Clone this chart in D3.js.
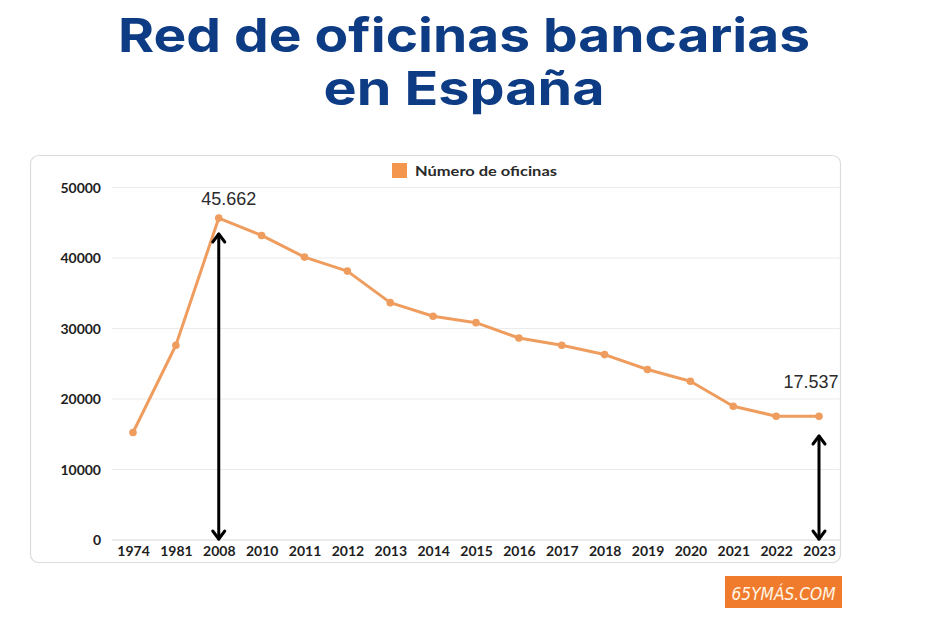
<!DOCTYPE html>
<html><head><meta charset="utf-8">
<script src="https://cdn.jsdelivr.net/npm/d3@7"></script>
<style>body{margin:0;background:#fff}svg{display:block}</style>
</head><body>
<svg id="c" width="928" height="621"></svg>
<script>
const years = ["1974","1981","2008","2010","2011","2012","2013","2014","2015","2016","2017","2018","2019","2020","2021","2022","2023"];
const oficinas = [15250,27620,45662,43200,40130,38140,33670,31730,30830,28650,27620,26300,24180,22520,18980,17560,17537];
const yTicks = [0,10000,20000,30000,40000,50000];
const titleLines = ["Red de oficinas bancarias","en España"];
const seriesName = "Número de oficinas";
const labelled = [{year:"2008", text:"45.662"},{year:"2023", text:"17.537"}];

const svg = d3.select("#c");
const x = d3.scalePoint().domain(years).range([133, 819]);
const y = d3.scaleLinear().domain([0,50000]).range([540, 187.5]);

// title
svg.append("g").selectAll("text").data(titleLines).join("text")
  .attr("x", 464).attr("y", (d,i)=> 52 + i*53)
  .attr("text-anchor","middle")
  .attr("font-family","Inter, 'Open Sans', sans-serif")
  .attr("font-weight", 700).attr("font-size", 47)
  .attr("fill","#0e3c84")
  .attr("textLength",(d,i)=> i===0 ? 692 : 281)
  .attr("lengthAdjust","spacingAndGlyphs")
  .text(d=>d);

// chart box
svg.append("rect").attr("x",30.5).attr("y",155.5).attr("width",810).attr("height",407)
  .attr("rx",8).attr("fill","#fff").attr("stroke","#dcdcdc").attr("stroke-width",1.2);

// legend
svg.append("rect").attr("x",392).attr("y",163).attr("width",15).attr("height",15).attr("fill","#f5964f");
svg.append("text").attr("x",415).attr("y",176).attr("font-family","Lato, Inter, sans-serif")
  .attr("font-weight",700).attr("font-size",14).attr("fill","#2a2a2a")
  .attr("textLength",142).attr("lengthAdjust","spacingAndGlyphs").text(seriesName);

// grid
svg.append("g").selectAll("line").data(yTicks).join("line")
  .attr("x1",112).attr("x2",840).attr("y1",d=>y(d)).attr("y2",d=>y(d))
  .attr("stroke",d=> d===0 ? "#d8d8d8" : "#ebebeb").attr("stroke-width",1);

// y axis labels
const yAxis = d3.axisLeft(y).tickValues(yTicks).tickSize(0).tickPadding(0).tickFormat(d3.format("d"));
const ya = svg.append("g").attr("transform","translate(101,0)").call(yAxis);
ya.select(".domain").remove();
ya.selectAll("text").attr("font-family","Lato, Inter, sans-serif").attr("font-weight",700)
  .attr("font-size",14).attr("fill","#1e1e1e").attr("dy","0.35em");

// x axis labels
const xAxis = d3.axisBottom(x).tickSize(0).tickPadding(0);
const xa = svg.append("g").attr("transform","translate(0,546)").call(xAxis);
xa.select(".domain").remove();
xa.selectAll("text").attr("font-family","Lato, Inter, sans-serif").attr("font-weight",700)
  .attr("font-size",14).attr("fill","#1e1e1e").attr("dy","0.71em");

// line
const data = years.map((d,i)=>({year:d, v:oficinas[i]}));
svg.append("path").datum(data)
  .attr("d", d3.line().x(d=>x(d.year)).y(d=>y(d.v)))
  .attr("fill","none").attr("stroke","#ef9d5f").attr("stroke-width",3).attr("stroke-linejoin","round");
svg.append("g").selectAll("circle").data(data).join("circle")
  .attr("cx",d=>x(d.year)).attr("cy",d=>y(d.v)).attr("r",3.8).attr("fill","#ef9d5f");

// data labels
svg.append("g").selectAll("text").data(labelled).join("text")
  .attr("x",(d,i)=> x(d.year) + (i===0 ? 10 : -8))
  .attr("y",(d,i)=> i===0 ? 205 : 388)
  .attr("text-anchor","middle")
  .attr("font-family","'Liberation Sans', Arial, sans-serif").attr("font-size",18)
  .attr("fill","#2b2b2b").text(d=>d.text);

// arrows
function arrow(xp, y1, y2){
  const g = svg.append("g").attr("stroke","#000").attr("stroke-width",3).attr("fill","none")
    .attr("stroke-linecap","round").attr("stroke-linejoin","round");
  g.append("line").attr("x1",xp).attr("x2",xp).attr("y1",y1).attr("y2",y2);
  g.append("path").attr("d",`M${xp-6},${y1+8}L${xp},${y1}L${xp+6},${y1+8}`);
  g.append("path").attr("d",`M${xp-6},${y2-8}L${xp},${y2}L${xp+6},${y2-8}`);
}
arrow(x("2008"), 234, 539);
arrow(x("2023"), 436, 539);

// logo
svg.append("rect").attr("x",725).attr("y",576).attr("width",117).attr("height",32).attr("fill","#f07b2c");
svg.append("text").attr("x",783.5).attr("y",600).attr("text-anchor","middle")
  .attr("font-family","'DejaVu Sans Condensed', 'Liberation Sans Narrow', sans-serif")
  .attr("font-style","italic").attr("font-size",18).attr("fill","#fff5e6")
  .attr("textLength",104).attr("lengthAdjust","spacingAndGlyphs").text("65YMÁS.COM");
</script>
</body></html>
